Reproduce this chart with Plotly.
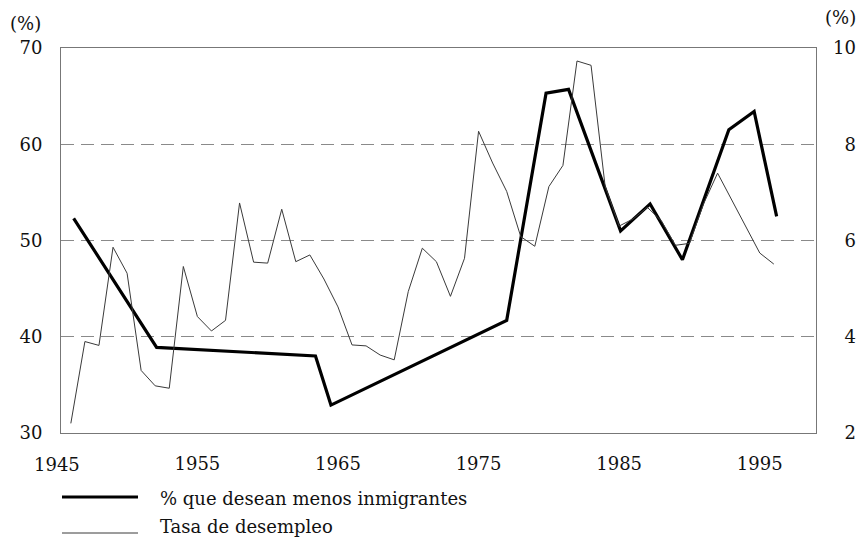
import plotly.graph_objects as go

# Thick line: % wanting fewer immigrants (left axis)
poll_years = [1946.2, 1952.1, 1963.4, 1964.5, 1977.0, 1979.8, 1981.4,
              1985.1, 1987.2, 1989.5, 1992.8, 1994.6, 1996.2]
poll_values = [52.3, 38.9, 38.0, 32.9, 41.7, 65.3, 65.7,
               51.0, 53.8, 48.0, 61.5, 63.4, 52.5]

# Thin line: unemployment rate (right axis)
unemp_years = list(range(1946, 1997))
unemp_values = [2.20, 3.90, 3.82, 5.86, 5.32, 3.30, 2.98, 2.93, 5.46, 4.42,
                4.12, 4.34, 6.78, 5.55, 5.53, 6.65, 5.56, 5.70, 5.20, 4.62,
                3.83, 3.81, 3.62, 3.52, 4.94, 5.84, 5.56, 4.84, 5.63, 8.27,
                7.61, 7.02, 6.08, 5.88, 7.12, 7.56, 9.73, 9.64, 7.13, 6.30,
                6.45, 6.69, 6.41, 5.90, 5.94, 6.76, 7.40, 6.85, 6.29, 5.74,
                5.51]

x_ticks = [1955, 1965, 1975, 1985, 1995]
left_ticks = [30, 40, 50, 60, 70]
right_ticks = [2, 4, 6, 8, 10]

legend_labels = ["% que desean menos inmigrantes", "Tasa de desempleo"]

FONT = "DejaVu Serif"
FS = 18
X_RANGE = [1945.3, 1999.0]

fig = go.Figure()
fig.add_trace(go.Scatter(x=unemp_years, y=unemp_values, mode="lines",
                         line=dict(color="#3a3a3a", width=1), yaxis="y2",
                         name=legend_labels[1], hoverinfo="skip"))
fig.add_trace(go.Scatter(x=poll_years, y=poll_values, mode="lines",
                         line=dict(color="#000000", width=3.2),
                         name=legend_labels[0], hoverinfo="skip"))

fig.update_layout(
    width=859, height=538,
    margin=dict(l=61, r=43, t=48, b=105, autoexpand=False),
    paper_bgcolor="white", plot_bgcolor="white",
    showlegend=False,
    font=dict(family=FONT, size=FS, color="#111111"),
    xaxis=dict(range=X_RANGE, tickvals=x_ticks, ticktext=[str(v) for v in x_ticks],
               showgrid=False, zeroline=False, showline=True, mirror=True,
               linecolor="#777777", linewidth=1, ticks="",
               ticklabelstandoff=14, tickfont=dict(family=FONT, size=FS)),
    yaxis=dict(range=[30, 70], tickvals=left_ticks, ticktext=[str(v) for v in left_ticks],
               showgrid=True, gridcolor="#8a8a8a", gridwidth=1, griddash="13px,7px",
               zeroline=False, showline=True, mirror=True,
               linecolor="#777777", linewidth=1, ticks="",
               ticklabelstandoff=14, tickfont=dict(family=FONT, size=FS)),
    yaxis2=dict(range=[2, 10], tickvals=right_ticks,
                ticktext=[("\u2007" + str(v)) if v < 10 else str(v) for v in right_ticks],
                overlaying="y", side="right", showgrid=False, zeroline=False,
                showline=False, ticks="", ticklabelstandoff=16,
                tickfont=dict(family=FONT, size=FS)),
)

# 1945 tick label (just left of the axis start)
fig.add_annotation(x=(1945 - X_RANGE[0]) / (X_RANGE[1] - X_RANGE[0]), y=0,
                   xref="paper", yref="paper", text="1945", showarrow=False,
                   xanchor="center", yanchor="top", yshift=-19,
                   font=dict(family=FONT, size=FS, color="#111111"))

# Unit labels
fig.add_annotation(x=-0.047, y=1.0, xref="paper", yref="paper", text="(%)",
                   showarrow=False, xanchor="center", yanchor="bottom", yshift=12,
                   font=dict(family=FONT, size=FS, color="#111111"))
fig.add_annotation(x=1.032, y=1.0, xref="paper", yref="paper", text="(%)",
                   showarrow=False, xanchor="center", yanchor="bottom", yshift=18,
                   font=dict(family=FONT, size=FS, color="#111111"))

# Manual legend
def py(pix):
    return (433 - pix) / 385.0

def px(pix):
    return (pix - 61) / 755.0

fig.add_shape(type="line", xref="paper", yref="paper",
              x0=px(62), x1=px(138), y0=py(497), y1=py(497),
              line=dict(color="#000000", width=3.2))
fig.add_shape(type="line", xref="paper", yref="paper",
              x0=px(62), x1=px(138), y0=py(533), y1=py(533),
              line=dict(color="#3a3a3a", width=1))
fig.add_annotation(x=px(158), y=py(498), xref="paper", yref="paper",
                   text=legend_labels[0], showarrow=False,
                   xanchor="left", yanchor="middle",
                   font=dict(family=FONT, size=FS, color="#111111"))
fig.add_annotation(x=px(158), y=py(526), xref="paper", yref="paper",
                   text=legend_labels[1], showarrow=False,
                   xanchor="left", yanchor="middle",
                   font=dict(family=FONT, size=FS, color="#111111"))

fig.write_html("out.html",
               config={"displayModeBar": False},
               post_script="document.body.style.margin='0px';"
                           "document.body.style.overflow='hidden';")
